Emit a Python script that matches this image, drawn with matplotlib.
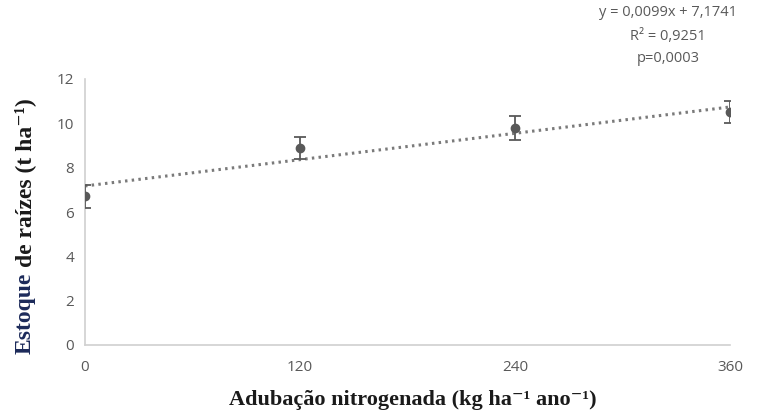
import numpy as np
import matplotlib
matplotlib.use("Agg")
import matplotlib.pyplot as plt

# data
doses = [0, 120, 240, 360]
stock = [6.7, 8.9, 9.8, 10.5]
stock_err = [0.5, 0.5, 0.55, 0.5]
slope = 0.0099
intercept = 7.1741
eq_lines = ["y = 0,0099x + 7,1741", "R² = 0,9251", "p=0,0003"]
yticks = [0, 2, 4, 6, 8, 10, 12]

fig = plt.figure(figsize=(7.6, 4.16), dpi=100)
ax = fig.add_axes([85/760, 1 - 345/416, (730 - 85)/760, (345 - 79)/416])

gray = '#595959'

# trend line
xs = np.array([doses[0], doses[-1]])
ax.plot(xs, slope * xs + intercept, color='#7a7a7a', lw=2.2,
        linestyle=(0, (0.8, 1.4)), zorder=2)

ax.errorbar(doses, stock, yerr=stock_err, fmt='o', color=gray, ms=6,
            ecolor=gray, elinewidth=1.3, capsize=4.5, capthick=1.3, zorder=3)

ax.set_xlim(0, 360)
ax.set_ylim(0, 12)
ax.set_xticks(doses)
ax.set_yticks(yticks)
ax.tick_params(length=0, labelsize=11, labelcolor=gray, pad=8)
ax.tick_params(axis='x', pad=11)
for lab in ax.get_xticklabels() + ax.get_yticklabels():
    lab.set_family('Open Sans')
for s in ['top', 'right']:
    ax.spines[s].set_visible(False)
for s in ['left', 'bottom']:
    ax.spines[s].set_color('#d0d0d0')
    ax.spines[s].set_linewidth(1.2)
ax.spines['bottom'].set_bounds(0, 360)

lab_font = dict(family=['Liberation Serif', 'DejaVu Serif'], fontweight='bold')

# x label
fig.text(413/760, 1 - 400/416, "Adubação nitrogenada (kg ha⁻¹ ano⁻¹)",
         ha='center', va='center', color='#1a1a1a', fontsize=16, **lab_font)

# y label in two pieces, second one stacked on the first
t1 = fig.text(25/760, 1 - 354/416, "Estoque", rotation=90, ha='center',
              va='bottom', color='#1c2a5a', fontsize=17, **lab_font)
fig.canvas.draw()
top = t1.get_window_extent().y1
fig.text(25/760, (top + 6) / 416, "de raízes (t ha⁻¹)", rotation=90,
         ha='center', va='bottom', color='#1a1a1a', fontsize=17, **lab_font)

# equation block
for i, line in enumerate(eq_lines):
    fig.text(668/760, 1 - (13 + 23 * i)/416, line, ha='center', va='center',
             family='Open Sans', fontsize=10.5, color=gray)

fig.savefig('out.png', dpi=100)
